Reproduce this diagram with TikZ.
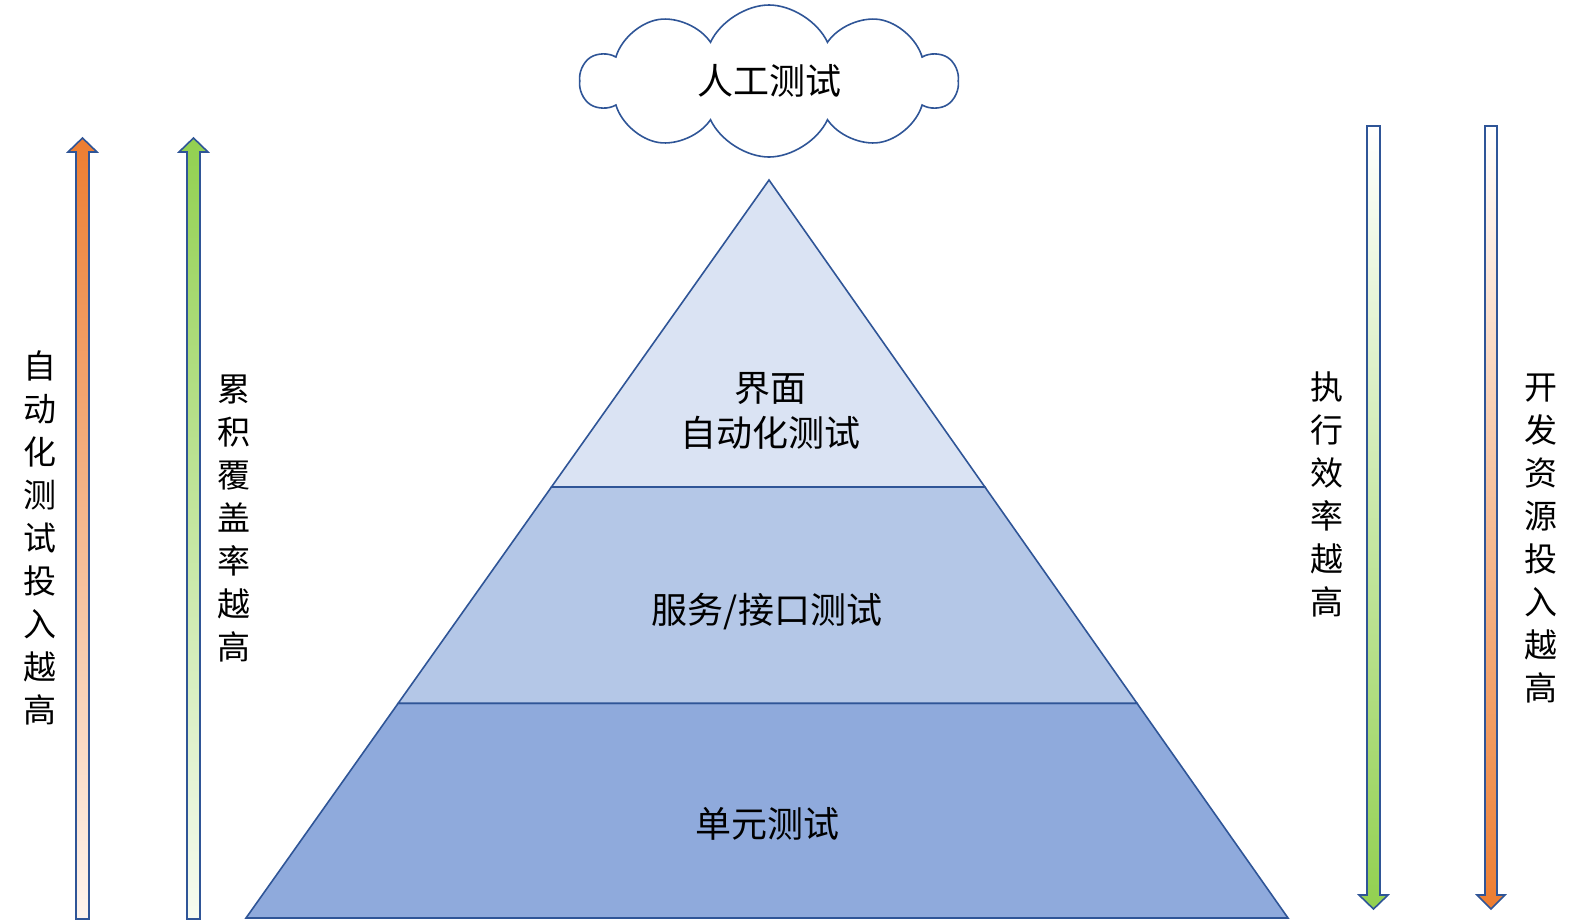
\documentclass[tikz,border=0pt]{standalone}
\usepackage{fontspec}
\newfontfamily\cjk{Noto Sans CJK SC}
\usetikzlibrary{shapes.symbols,calc}
\definecolor{edgeblue}{HTML}{2F5597}
\definecolor{layerone}{HTML}{DAE3F3}
\definecolor{layertwo}{HTML}{B4C7E7}
\definecolor{layerthree}{HTML}{8FAADC}
\definecolor{arrorange}{HTML}{ED7D31}
\definecolor{arrgreen}{HTML}{92D050}
\begin{document}
\begin{tikzpicture}[x=1pt,y=-1pt,
  edge/.style={draw=edgeblue,line width=1.6pt,line join=miter},
  label/.style={font=\cjk\fontsize{36}{45}\selectfont,align=center,inner sep=0pt},
  vtext/.style={font=\cjk\fontsize{33}{43}\selectfont,align=center,inner sep=0pt,text width=36pt}]
\useasboundingbox(0,0)rectangle(1582,922);
% pyramid
\coordinate(apex)at(769,180);
\coordinate(bl)at(246,918);
\coordinate(br)at(1288,918);
\coordinate(l1)at($(apex)!0.416!(bl)$);
\coordinate(r1)at($(apex)!0.416!(br)$);
\coordinate(l2)at($(apex)!0.709!(bl)$);
\coordinate(r2)at($(apex)!0.709!(br)$);
\path[edge,fill=layerthree](l2)--(bl)--(br)--(r2)--cycle;
\path[edge,fill=layertwo](l1)--(l2)--(r2)--(r1)--cycle;
\path[edge,fill=layerone](apex)--(l1)--(r1)--cycle;
\node[label](ui)at(770,411){界面\\自动化测试};
\node[label](api)at(767,612){服务/接口测试};
\node[label](unit)at(767,824){单元测试};
% cloud
\node[cloud,edge,fill=white,cloud puffs=10,cloud puff arc=130,aspect=2.5,
  minimum width=376pt,minimum height=152pt,inner sep=0pt,label](manual)at(769,81){人工测试};
% arrows
\path[edge,top color=arrorange,bottom color=arrorange!8](76,919)--(76,152)--(68,152)--(82.5,138)
  --(97,152)--(89,152)--(89,919)--cycle;
\path[edge,top color=arrgreen,bottom color=arrgreen!8](187,919)--(187,152)--(179,152)--(193.5,138)
  --(208,152)--(200,152)--(200,919)--cycle;
\path[edge,top color=white,bottom color=arrgreen](1367,126)--(1367,895)--(1359,895)--(1373.5,909)
  --(1388,895)--(1380,895)--(1380,126)--cycle;
\path[edge,top color=white,bottom color=arrorange](1485,126)--(1485,895)--(1477,895)--(1491,909)
  --(1505,895)--(1497,895)--(1497,126)--cycle;
\node[vtext](autoinvest)at(40,538){自\\动\\化\\测\\试\\投\\入\\越\\高};
\node[vtext](coverage)at(234,518){累\\积\\覆\\盖\\率\\越\\高};
\node[vtext](speed)at(1327,494){执\\行\\效\\率\\越\\高};
\node[vtext](devcost)at(1541,539){开\\发\\资\\源\\投\\入\\越\\高};
\end{tikzpicture}
\end{document}
